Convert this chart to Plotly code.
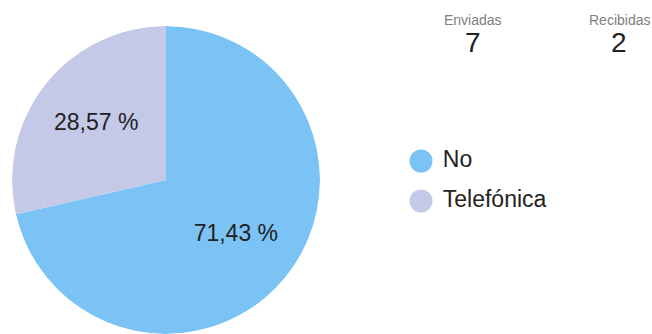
import plotly.graph_objects as go

labels = ["No", "Telefónica"]
values = [5, 2]
colors = ["#7cc3f5", "#c5c9e8"]

stat_titles = ["Enviadas", "Recibidas"]
stat_values = [7, 2]

total = sum(values)
pct_text = [f"{v / total * 100:.2f}".replace(".", ",") + " %" for v in values]

# slice geometry (clockwise from 12 o'clock), derived from the values
mid_theta = []
widths = []
acc = 0
for v in values:
    mid_theta.append((acc + v / 2) / total * 360)
    widths.append(v / total * 360)
    acc += v

W, H = 652, 334
FONT = "Liberation Sans, Arial, sans-serif"
pie_domain = dict(x=[12 / W, 320 / W], y=[0, 308 / H])

fig = go.Figure()

# pie drawn as full-radius polar bars
fig.add_trace(go.Barpolar(
    r=[1] * len(values),
    theta=mid_theta,
    width=widths,
    marker=dict(color=colors, line=dict(width=0)),
    customdata=pct_text,
    hovertext=labels,
    hovertemplate="%{hovertext}: %{customdata}<extra></extra>",
    showlegend=False,
))

# slice labels
fig.add_trace(go.Scatterpolar(
    r=[0.58] * len(values),
    theta=mid_theta,
    mode="text",
    text=pct_text,
    textposition="middle center",
    textfont=dict(family=FONT, size=23, color="#222222"),
    showlegend=False,
    hoverinfo="skip",
    cliponaxis=False,
))

# legend drawn as markers + text on hidden axes
fig.add_trace(go.Scatter(
    x=[0] * len(labels),
    y=labels,
    mode="markers+text",
    marker=dict(size=23, color=colors, line=dict(width=0)),
    text=["\u00a0" + l for l in labels],
    textposition="middle right",
    textfont=dict(family=FONT, size=23, color="#222222"),
    cliponaxis=False,
    showlegend=False,
    hoverinfo="skip",
))

annotations = []
stat_x = [473 / W, 619 / W]
for t, v, xc in zip(stat_titles, stat_values, stat_x):
    annotations.append(dict(
        x=xc, y=1 - 20 / H, xref="paper", yref="paper",
        text=t, showarrow=False, xanchor="center", yanchor="middle",
        font=dict(family=FONT, size=14, color="#808080"),
    ))
    annotations.append(dict(
        x=xc, y=1 - 43 / H, xref="paper", yref="paper",
        text=str(v), showarrow=False, xanchor="center", yanchor="middle",
        font=dict(family=FONT, size=28, color="#222222"),
    ))

fig.update_layout(
    width=W, height=H,
    margin=dict(l=0, r=0, t=0, b=0),
    paper_bgcolor="white",
    plot_bgcolor="white",
    polar=dict(
        domain=pie_domain,
        bgcolor="rgba(0,0,0,0)",
        bargap=0,
        hole=0,
        radialaxis=dict(range=[0, 1], visible=False, showgrid=False),
        angularaxis=dict(rotation=90, direction="clockwise", visible=False, showgrid=False),
    ),
    xaxis=dict(domain=[421 / W, 1], range=[0, 10], visible=False, fixedrange=True),
    yaxis=dict(domain=[(H - 221) / H, (H - 141) / H], range=[1.5, -0.5],
               type="category", visible=False, fixedrange=True),
    annotations=annotations,
    showlegend=False,
)

fig.write_html("out.html")
